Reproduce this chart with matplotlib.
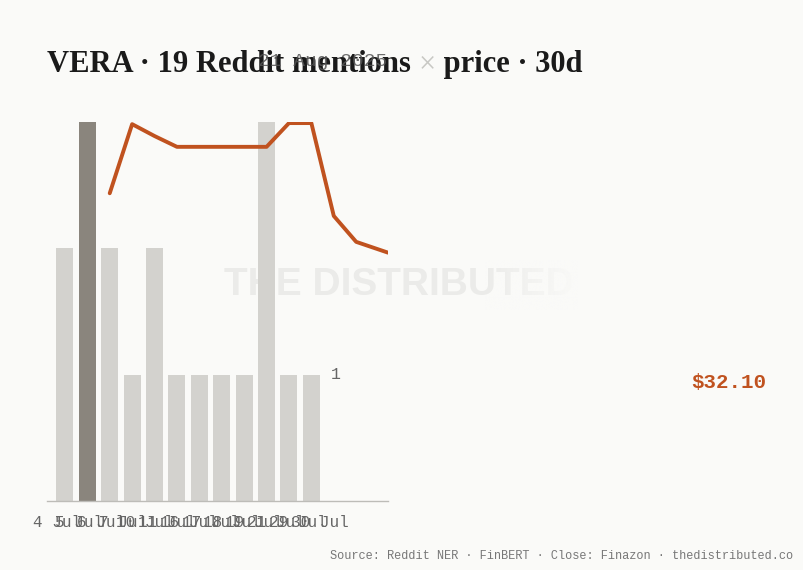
import matplotlib
matplotlib.use("Agg")
import matplotlib.pyplot as plt
import numpy as np
from matplotlib.colors import to_rgb

# ── data ────────────────────────────────────────────────────────────────────
bar_x = [0, 1, 2, 3, 4, 5, 6, 7, 8, 9, 10, 11]
mentions = [2, 3, 2, 1, 2, 1, 1, 1, 1, 3, 1, 1]
highlight = 1

price_x = [2, 3, 4, 5, 6, 7, 8, 9, 10, 11, 12, 13, 14.42]
price = [33.20, 34.48, 34.26, 34.06, 34.06, 34.06, 34.06, 34.06,
         34.50, 34.50, 32.78, 32.30, 32.10]

tick_labels = ["4 Jul", "5 Jul", "6 Jul", "7 Jul", "10 Jul", "11 Jul",
               "16 Jul", "17 Jul", "18 Jul", "19 Jul", "21 Jul", "29 Jul",
               "30 Jul"]

# ── style ───────────────────────────────────────────────────────────────────
BG = "#fafaf8"
BAR = "#d3d2ce"
BAR_HI = "#8a857d"
LINE = "#c0521f"
INK = "#1a1a1a"
MUTED = "#666666"
MONO = ["Liberation Mono", "DejaVu Sans Mono"]

W, H = 804, 570
fig = plt.figure(figsize=(W / 100, H / 100), dpi=100)
fig.patch.set_facecolor(BG)

def fx(px):
    return px / W

def fy(py):
    return 1 - py / H

# main axes: px 47..388 horizontally, 122..501 vertically
ax = fig.add_axes([fx(47), fy(501), fx(388) - fx(47), fy(122) - fy(501)])
ax.set_facecolor("none")
ax.set_xlim(-0.8, 14.42)
ax.set_ylim(0, 3)

colors = [BAR_HI if i == highlight else BAR for i in range(len(mentions))]
ax.bar(bar_x, mentions, width=0.76, color=colors, zorder=2)

for s in ["top", "right", "left"]:
    ax.spines[s].set_visible(False)
ax.spines["bottom"].set_color("#bdbcb8")
ax.spines["bottom"].set_linewidth(1.0)
ax.set_yticks([])

tick_pos = [-0.33 + 0.975 * i for i in range(len(tick_labels))]
ax.set_xticks(tick_pos)
ax.set_xticklabels(tick_labels, family=MONO, fontsize=11.5, color=MUTED)
ax.tick_params(axis="x", length=0, pad=10)

ax.text(11.88, 1, "1", ha="left", va="center", family=MONO,
        fontsize=12, color=MUTED, zorder=3)

# watermark (behind bars)
ax.text(0.52, 0.57, "THE DISTRIBUTED", transform=ax.transAxes,
        ha="left", va="center", fontsize=28, fontweight="bold",
        family="Liberation Sans", color="#ebebe9", clip_on=False, zorder=0.5)

# price line on its own scale
ax2 = ax.twinx()
ax2.set_ylim(27.5, 34.52)
ax2.axis("off")
ax2.plot(price_x, price, color=LINE, lw=2.8, solid_joinstyle="round",
         solid_capstyle="round", zorder=4, clip_on=True)

# fade the right end of the watermark
fade = fig.add_axes([fx(485), fy(310), fx(578) - fx(485), fy(260) - fy(310)])
fade.set_zorder(5)
fade.axis("off")
grad = np.zeros((2, 256, 4))
grad[..., :3] = to_rgb(BG)
grad[..., 3] = np.linspace(0, 1, 256) ** 0.9
fade.imshow(grad, aspect="auto", extent=(0, 1, 0, 1))
fade.set_xlim(0, 1)
fade.set_ylim(0, 1)

# ── title (black / grey cross / black) ───────────────────────────────────────
fig.canvas.draw()
r = fig.canvas.get_renderer()
tkw = dict(fontsize=22, fontweight="bold", family="Liberation Serif",
           color=INK, va="baseline", ha="left")
t1 = fig.text(fx(47), fy(72), "VERA · 19 Reddit mentions ", **tkw)
x1 = t1.get_window_extent(r).x1
t2 = fig.text(x1 / W, fy(72), "×", **{**tkw, "color": "#c8c8c4",
                                        "fontweight": "normal"})
x2 = t2.get_window_extent(r).x1
fig.text(x2 / W, fy(72), " price · 30d", **tkw)

fig.text(fx(258), fy(62), "21 Aug 2025", ha="left", va="center",
         family=MONO, fontsize=14, color="#555555", alpha=0.85)

fig.text(fx(766), fy(382), "$32.10", ha="right", va="center",
         family=MONO, fontsize=15, fontweight="bold", color=LINE)

fig.text(fx(793), fy(556), "Source: Reddit NER · FinBERT · Close: Finazon · thedistributed.co",
         ha="right", va="center", family=MONO, fontsize=8.6, color="#777777")

fig.savefig("out.png", dpi=100, facecolor=BG)
